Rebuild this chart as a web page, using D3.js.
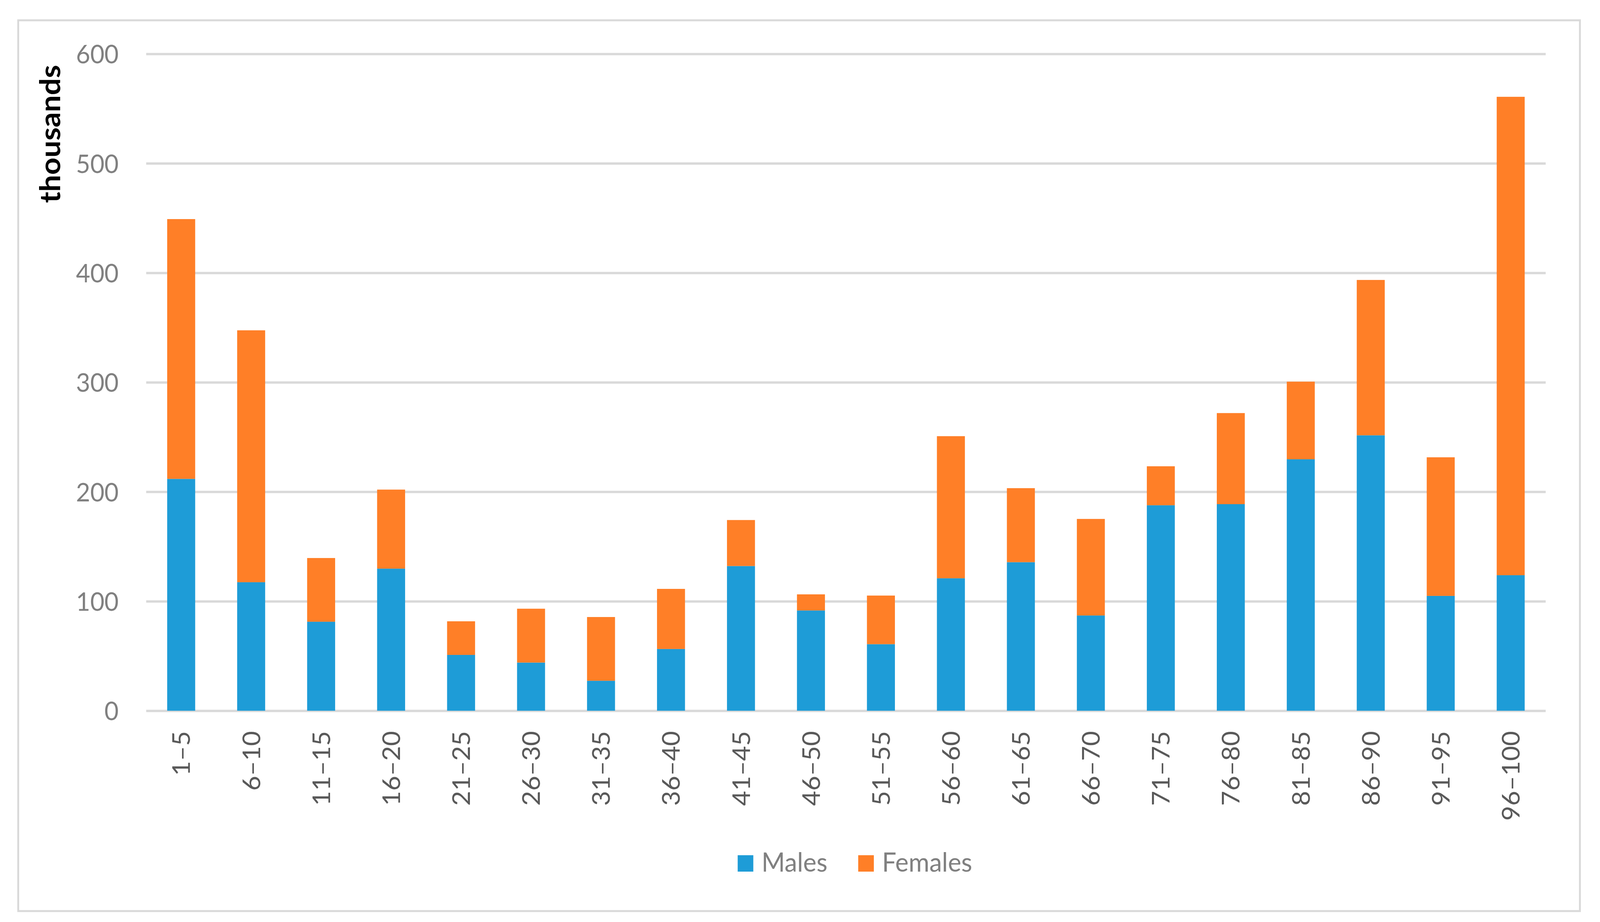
<!DOCTYPE html>
<html>
<head>
<meta charset="utf-8">
<script src="https://cdn.jsdelivr.net/npm/d3@7"></script>
<style>
  html, body { margin: 0; padding: 0; background: #fff; overflow: hidden; }
  svg { display: block; }
  text { font-family: Lato, "Open Sans", sans-serif; }
</style>
</head>
<body>
<div class="canvas"></div>
<script>
// chart values (thousands)
var ageGroups = ['1–5','6–10','11–15','16–20','21–25','26–30','31–35','36–40','41–45','46–50',
  '51–55','56–60','61–65','66–70','71–75','76–80','81–85','86–90','91–95','96–100'];
var males = [211.8,117.4,81.3,129.8,51.0,44.0,27.4,56.4,132.2,91.6,
  60.8,121.0,135.7,87.0,187.7,188.7,229.7,251.6,104.9,123.8];
var females = [237.3,230.1,58.2,72.2,30.7,49.2,58.2,54.9,42.0,14.7,
  44.4,129.8,67.6,88.2,35.6,83.2,70.9,141.9,126.6,437.0];
var yTicks = [0,100,200,300,400,500,600];
var seriesNames = ['Males','Females'];
var seriesColors = ['#1e9cd7','#ff7f27'];

// drawing is done in a 4301x2361 frame, stretched to whatever the viewport is
var W = 4301, H = 2361;
var margin = {t:138, r:146, b:541, l:393};

var svg = d3.select('.canvas')
  .append('svg')
  .attr('width', window.innerWidth || W)
  .attr('height', window.innerHeight || H)
  .attr('viewBox', '0 0 ' + W + ' ' + H)
  .attr('preserveAspectRatio', 'none');

// outer chart border
svg.append('rect')
  .attr('x', 49).attr('y', 52)
  .attr('width', 4198).attr('height', 2281)
  .attr('fill', 'none')
  .attr('stroke', '#d9d9d9')
  .attr('stroke-width', 5);

var x = d3.scaleBand()
  .domain(ageGroups)
  .range([margin.l, W - margin.r])
  .paddingInner(0.6)
  .paddingOuter(0.3);

var y = d3.scaleLinear()
  .domain([0, 600])
  .range([H - margin.b, margin.t]);

// gridlines
var grid = svg.append('g')
  .attr('transform', 'translate(' + margin.l + ',0)')
  .call(d3.axisLeft(y).tickValues(yTicks).tickSize(-(W - margin.r - margin.l)).tickFormat(''));
grid.select('.domain').remove();
grid.selectAll('line').attr('stroke', '#d9d9d9').attr('stroke-width', 6);

// y labels
var yAxis = svg.append('g')
  .attr('transform', 'translate(' + margin.l + ',0)')
  .call(d3.axisLeft(y).tickValues(yTicks).tickSize(0).tickPadding(74));
yAxis.select('.domain').remove();
yAxis.selectAll('text')
  .attr('fill', '#808080')
  .style('font-size', '66px')
  .attr('dy', '0.36em');

// stacked bars
var rows = ageGroups.map(function(g, i) {
  return {group: g, Males: males[i], Females: females[i]};
});
var stacked = d3.stack().keys(seriesNames)(rows);

svg.append('g')
  .selectAll('g')
  .data(stacked)
  .enter()
  .append('g')
  .attr('fill', function(d, i) { return seriesColors[i]; })
  .selectAll('rect')
  .data(function(d) { return d; })
  .enter()
  .append('rect')
  .attr('x', function(d) { return x(d.data.group); })
  .attr('width', x.bandwidth())
  .attr('y', function(d) { return y(d[1]); })
  .attr('height', function(d) { return y(d[0]) - y(d[1]); });

// x labels
var xAxis = svg.append('g')
  .attr('transform', 'translate(0,' + (H - margin.b) + ')')
  .call(d3.axisBottom(x).tickSize(0));
xAxis.select('.domain').remove();
xAxis.selectAll('text')
  .attr('fill', '#595959')
  .style('font-size', '66px')
  .attr('x', 0).attr('y', 0)
  .attr('dy', '0.36em')
  .attr('text-anchor', 'end')
  .attr('transform', 'translate(0,52) rotate(-90)');

// axis title
svg.append('text')
  .attr('transform', 'translate(162,343) rotate(-90)')
  .attr('text-anchor', 'middle')
  .style('font-size', '77px')
  .style('font-weight', 'bold')
  .attr('fill', '#000')
  .text('thousands');

// legend
var legendX = [1983, 2307];
var legend = svg.append('g');
seriesNames.forEach(function(name, i) {
  legend.append('rect')
    .attr('x', legendX[i]).attr('y', 2190)
    .attr('width', 42).attr('height', 42)
    .attr('fill', seriesColors[i]);
  legend.append('text')
    .attr('x', legendX[i] + 64).attr('y', 2232)
    .attr('fill', '#808080')
    .style('font-size', '68px')
    .text(name);
});
</script>
</body>
</html>
